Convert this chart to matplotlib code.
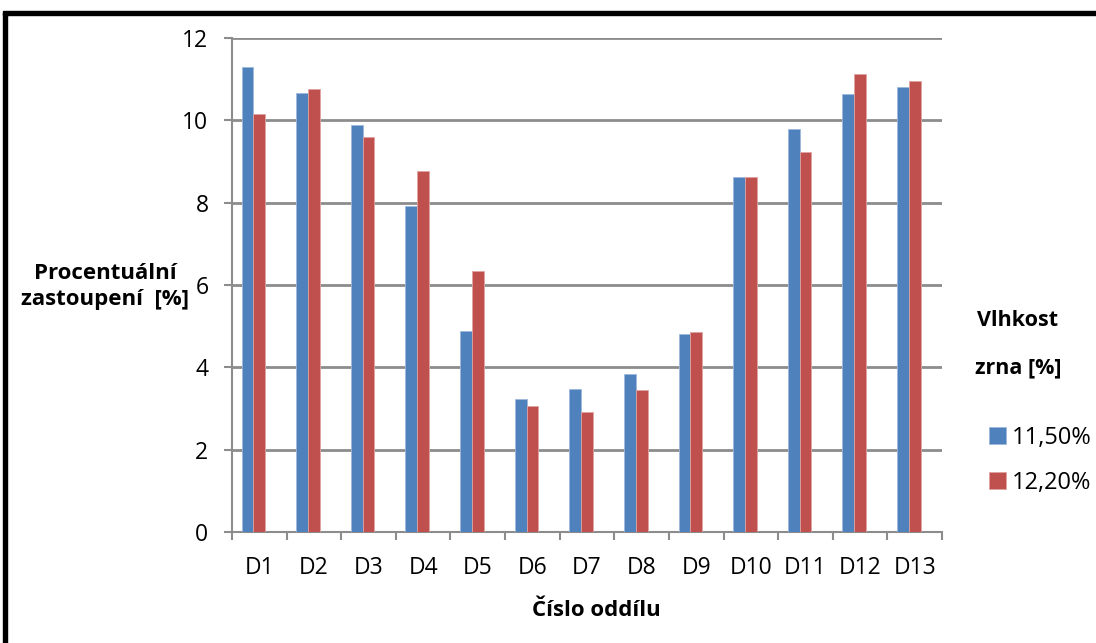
import numpy as np
import matplotlib.pyplot as plt
from matplotlib.patches import Rectangle

plt.rcParams['font.family'] = ['Open Sans', 'DejaVu Sans']

# section labels and share of grain per section, two moisture levels
sections = ["D1", "D2", "D3", "D4", "D5", "D6", "D7", "D8", "D9", "D10", "D11", "D12", "D13"]
moist_1150 = [11.30, 10.66, 9.88, 7.93, 4.88, 3.23, 3.47, 3.83, 4.82, 8.63, 9.80, 10.65, 10.80]
moist_1220 = [10.15, 10.75, 9.60, 8.76, 6.35, 3.06, 2.92, 3.46, 4.85, 8.63, 9.22, 11.12, 10.96]
series_names = ["11,50%", "12,20%"]
colors = ["#4F81BD", "#C0504D"]

fig = plt.figure(figsize=(10.96, 6.43), dpi=100)
ax = fig.add_axes([0.2117, 0.1726, 0.6478, 0.7683])

x = np.arange(len(sections))
w = 0.216
bars1 = ax.bar(x - w, moist_1150, width=w, color=colors[0], edgecolor="#9db8dc", linewidth=0.6,
               label=series_names[0], zorder=3)
bars2 = ax.bar(x, moist_1220, width=w, color=colors[1], edgecolor="#e0a3a1", linewidth=0.6,
               label=series_names[1], zorder=3)

ax.set_xlim(-0.5, len(sections) - 0.5)
ax.set_ylim(0, 12)
ax.set_yticks(np.arange(0, 13, 2))
ax.set_xticks(np.arange(len(sections) + 1) - 0.5, minor=False)
ax.set_xticklabels([])
ax.set_xticks(x, minor=True)
ax.set_xticklabels(sections, minor=True)
ax.tick_params(axis="x", which="minor", length=0, pad=17, labelsize=16.5)
ax.tick_params(axis="x", which="major", length=6, width=1.5, color="#8c8c8c")
ax.tick_params(axis="y", length=6, width=1.5, color="#8c8c8c", pad=11, labelsize=16.5)

ax.grid(axis="y", color="#8c8c8c", linewidth=2, zorder=0)
for side in ["top", "right"]:
    ax.spines[side].set_visible(False)
for side in ["left", "bottom"]:
    ax.spines[side].set_color("#8c8c8c")
    ax.spines[side].set_linewidth(1.5)

fig.text(0.096, 0.555, "Procentuální\nzastoupení  [%]", ha="center", va="center",
         fontsize=16, fontweight="bold", linespacing=1.3)
fig.text(0.544, 0.051, "Číslo oddílu", ha="center", va="center", fontsize=16, fontweight="bold")

# legend title in two lines, then the entries
fig.text(0.928, 0.502, "Vlhkost", ha="center", va="center", fontsize=15.5, fontweight="bold")
fig.text(0.929, 0.428, "zrna [%]", ha="center", va="center", fontsize=15.5, fontweight="bold")
ax.legend(handles=[bars1, bars2], loc="center left", bbox_to_anchor=(0.883, 0.284),
          bbox_transform=fig.transFigure, frameon=False, fontsize=17,
          handlelength=0.7, handleheight=0.7, handletextpad=0.25, labelspacing=0.9)

# black frame on the left and top edges of the figure
fig.add_artist(Rectangle((0.003, -0.05), 0.0035, 1.03, transform=fig.transFigure,
                         color="black", zorder=10))
fig.add_artist(Rectangle((0.003, 0.977), 1.0, 0.0065, transform=fig.transFigure,
                         color="black", zorder=10))

fig.savefig("out.png", dpi=100)
